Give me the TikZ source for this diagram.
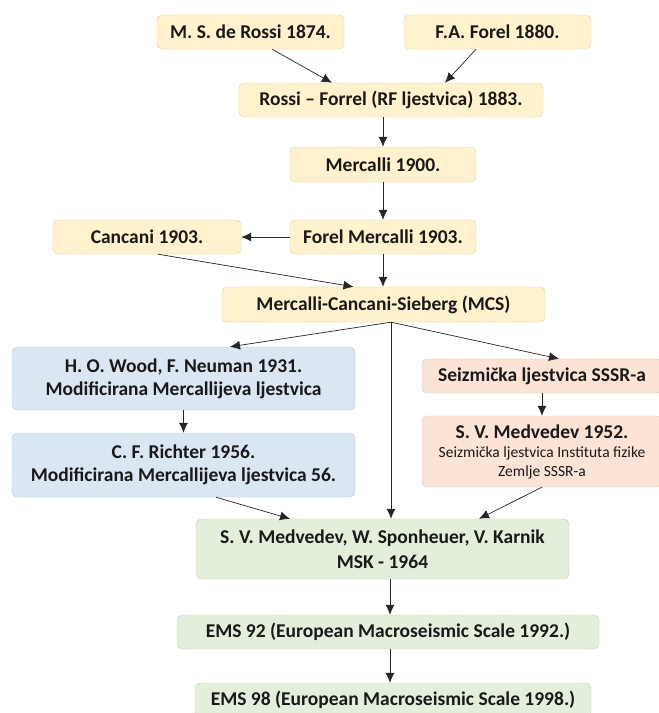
\documentclass[tikz,border=0pt]{standalone}
\usepackage{fontspec}
\setmainfont{Carlito}
\usetikzlibrary{arrows.meta,calc}
\definecolor{ylwfill}{HTML}{FFF2CC}
\definecolor{ylwline}{HTML}{DDCFA6}
\definecolor{bluefill}{HTML}{DAE6F2}
\definecolor{blueline}{HTML}{BFCCDA}
\definecolor{pchfill}{HTML}{FBE3D5}
\definecolor{pchline}{HTML}{E2C6B6}
\definecolor{grnfill}{HTML}{E3EFDA}
\definecolor{grnline}{HTML}{C5D3BA}
\newcommand{\smallfnt}{\fontsize{15.5}{17}\selectfont\mdseries}
\tikzstyle{box} = [rounded corners=5pt, inner sep=0pt, align=center, text=black!90,
  font={\fontsize{19.5}{23}\selectfont\bfseries}]
\tikzstyle{ylwbox} = [box, fill=ylwfill, draw=ylwline]
\tikzstyle{bluebox} = [box, fill=bluefill, draw=blueline]
\tikzstyle{pchbox} = [box, fill=pchfill, draw=pchline]
\tikzstyle{grnbox} = [box, fill=grnfill, draw=grnline]
\tikzstyle{arr} = [-{Latex[length=10pt,width=9pt]}, draw=black!85, line width=0.7pt]
\tikzset{wh/.style 2 args={minimum width=#1pt, minimum height=#2pt}}

\begin{document}
\begin{tikzpicture}[x=1pt, y=-1pt]
  \clip (0,0) rectangle (659,713);
  \fill[white] (0,0) rectangle (659,713);

  % yellow part
  \node[ylwbox, wh={187}{34}, at={(250.5,32)}] (rossi) {M. S. de Rossi 1874.};
  \node[ylwbox, wh={187}{34}, at={(497.5,32)}] (forel) {F.A. Forel 1880.};
  \node[ylwbox, wh={304}{34}, at={(391,100)}] (rf) {Rossi -- Forrel (RF ljestvica) 1883.};
  \node[ylwbox, wh={186}{35}, at={(383,164.5)}] (merc) {Mercalli 1900.};
  \node[ylwbox, wh={186}{34}, at={(383,237)}] (forelm) {Forel Mercalli 1903.};
  \node[ylwbox, wh={188}{34}, at={(147,237)}] (cancani) {Cancani 1903.};
  \node[ylwbox, wh={323}{35}, at={(383.5,304.5)}] (mcs) {Mercalli-Cancani-Sieberg (MCS)};

  % blue part
  \node[bluebox, wh={343}{63}, at={(183.5,378.5)}] (wood) {H. O. Wood, F. Neuman 1931.\\Modificirana Mercallijeva ljestvica};
  \node[bluebox, wh={343}{64}, at={(183.5,465)}] (richter) {C. F. Richter 1956.\\Modificirana Mercallijeva ljestvica 56.};

  % peach part
  \node[pchbox, wh={240}{34}, at={(542,376)}] (sssr) {Seizmička ljestvica SSSR-a};
  \node[pchbox, wh={240}{71}, at={(542,451.5)}, font={\fontsize{19.5}{19}\selectfont\bfseries}] (medv)
    {S. V. Medvedev 1952.\\{\smallfnt Seizmička ljestvica Instituta fizike}\\{\smallfnt Zemlje SSSR-a}};

  % green part
  \node[grnbox, wh={373}{60}, at={(382.5,549)}, font={\fontsize{19.5}{25}\selectfont\bfseries}] (msk) {S. V. Medvedev, W. Sponheuer, V. Karnik\\MSK - 1964};
  \node[grnbox, wh={422}{34}, at={(388,632)}] (ems92) {EMS 92 (European Macroseismic Scale 1992.)};
  \node[grnbox, wh={396}{34}, at={(393,700)}] (ems98) {EMS 98 (European Macroseismic Scale 1998.)};

  % connectors
  \draw[arr] ($(rossi.south)+(21.5,0)$) -- ($(rf.north)+(-59,0)$);
  \draw[arr] ($(forel.south)+(-21.5,0)$) -- ($(rf.north)+(54,0)$);
  \draw[arr] (rf.south -| merc.north) -- (merc.north);
  \draw[arr] (merc) -- (forelm);
  \draw[arr] (forelm) -- (cancani);
  \draw[arr] (forelm.south) -- (forelm.south |- mcs.north);
  \draw[arr] ($(cancani.south)+(11,0)$) -- ($(mcs.north)+(-30,0)$);
  \draw[arr] ($(mcs.south)+(7.5,0)$) -- ($(wood.north)+(46.5,0)$);
  \draw[arr] ($(mcs.south)+(7.5,0)$) -- ($(sssr.north)+(17,0)$);
  \draw[arr] ($(mcs.south)+(7.5,0)$) -- ($(msk.north)+(8.5,0)$);
  \draw[arr] (wood) -- (richter);
  \draw[arr] (sssr) -- (medv);
  \draw[arr] ($(richter.south)+(32.5,0)$) -- ($(msk.north)+(-92.5,0)$);
  \draw[arr] (medv.south) -- ($(msk.north)+(96.5,0)$);
  \draw[arr] ($(msk.south)+(7.5,0)$) -- ($(ems92.north)+(2,0)$);
  \draw[arr] ($(ems92.north)+(2,34)$) -- ($(ems98.north)+(-3,0)$);

\end{tikzpicture}
\end{document}
